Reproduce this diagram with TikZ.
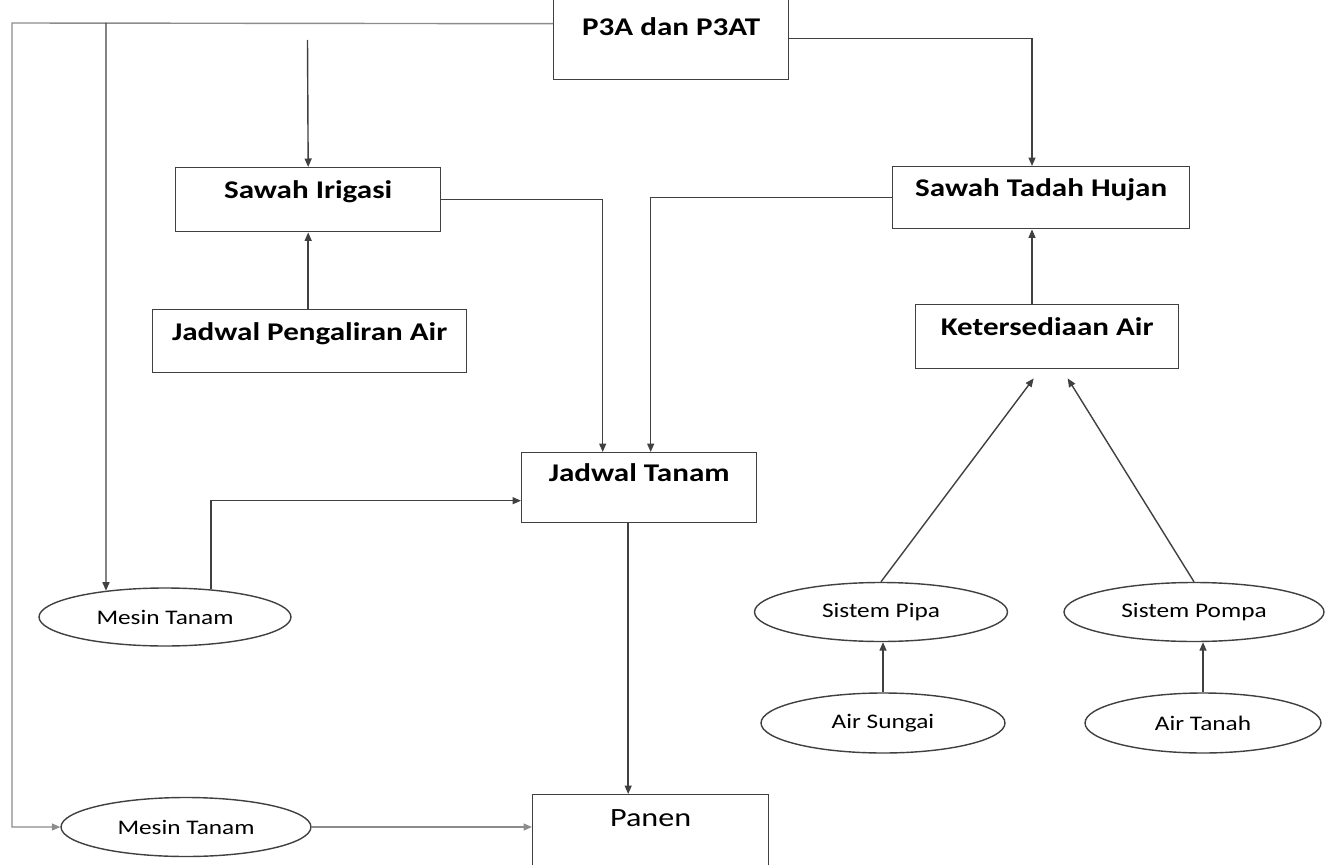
\documentclass[tikz,border=0pt]{standalone}
\usepackage{fontspec}
\setmainfont{Carlito}[FakeStretch=1.22]
\usetikzlibrary{positioning,shapes.geometric,arrows.meta}

\begin{document}
\begin{tikzpicture}[x=0.02cm,y=-0.02cm,>={Triangle[length=1.7mm,width=1.4mm]},
  blok/.style={draw=black!75,line width=0.8pt,rectangle,inner sep=0pt,anchor=north west,align=center,font=\fontsize{14.5}{18}\selectfont\bfseries},
  elips/.style={draw=black!75,line width=0.8pt,ellipse,inner sep=0pt,font=\fontsize{11.8}{13}\selectfont},
  garis/.style={draw=black!75,line width=0.8pt},
  garistipis/.style={draw=black!45,line width=0.8pt}]
\useasboundingbox (0,0) rectangle (1332,865);
\clip (0,0) rectangle (1332,865);
\node [blok,minimum width=4.70cm,text height=0.76cm,text depth=0.88cm] (p3a) at (553,-3) {P3A dan P3AT};
\node [blok,minimum width=5.30cm,text height=0.62cm,text depth=0.66cm] (irigasi) at (175,167) {Sawah Irigasi};
\node [blok,minimum width=6.28cm,text height=0.62cm,text depth=0.64cm] (pengaliran) at (152,309) {Jadwal Pengaliran Air};
\node [blok,minimum width=5.94cm,text height=0.60cm,text depth=0.64cm] (tadah) at (892,166) {Sawah Tadah Hujan};
\node [blok,minimum width=5.26cm,text height=0.62cm,text depth=0.66cm] (keter) at (915,304) {Ketersediaan Air};
\node [blok,minimum width=4.70cm,text height=0.58cm,text depth=0.82cm] (tanam) at (521,452) {Jadwal Tanam};
\node [blok,minimum width=4.72cm,text height=0.64cm,text depth=1.08cm,font=\fontsize{15}{18}\selectfont] (panen) at (532,794) {Panen};
\node [elips,minimum width=5.04cm,minimum height=1.16cm] (mesin1) at (165,617) {Mesin Tanam};
\node [elips,minimum width=5.00cm,minimum height=1.18cm] (mesin2) at (186,827) {Mesin Tanam};
\node [elips,minimum width=5.06cm,minimum height=1.18cm] (pipa) at (881,612) {Sistem Pipa};
\node [elips,minimum width=5.20cm,minimum height=1.18cm] (pompa) at (1194,612) {Sistem Pompa};
\node [elips,minimum width=4.88cm,minimum height=1.20cm] (sungai) at (883,723) {Air Sungai};
\node [elips,minimum width=4.72cm,minimum height=1.20cm] (tanah) at (1203,723) {Air Tanah};
\coordinate (sudut) at (12,23);
\coordinate (cabang) at (106,23);
\coordinate (atas) at (307.5,40);
\coordinate (sumbu) at (1032,0);
\draw [garistipis,->] ([yshift=.3cm]p3a.west) -- (sudut) -- (sudut |- mesin2.west) -- (mesin2.west);
\draw [garis,->] (cabang) -- (mesin1.156);
\draw [garis,->] (atas) -- (irigasi.north);
\draw [garis,->] (p3a.east) -| (sumbu |- tadah.north);
\draw [garis,->] (sumbu |- keter.north) -- (sumbu |- tadah.south);
\draw [garis,->] (pengaliran.north -| irigasi.south) -- (irigasi.south);
\draw [garis,->] (irigasi.east) -| ([xshift=-.73cm]tanam.north);
\draw [garis,->] (tadah.west) -| ([xshift=.23cm]tanam.north);
\draw [garis,->] (mesin1.31) |- ([yshift=-.26cm]tanam.west);
\draw [garis,->] ([xshift=-.22cm]tanam.south) -- ([xshift=-.22cm]tanam.south |- panen.north);
\draw [garistipis,->] (mesin2.east) -- (mesin2.east -| panen.west);
\draw [garis,->] (pipa.north) -- ([xshift=-.27cm,yshift=-.18cm]keter.south);
\draw [garis,->] (pompa.north) -- ([xshift=.41cm,yshift=-.18cm]keter.south);
\draw [garis,->] (sungai.north) -- (sungai.north |- pipa.south);
\draw [garis,->] (tanah.north) -- (tanah.north |- pompa.south);
\end{tikzpicture}
\end{document}
